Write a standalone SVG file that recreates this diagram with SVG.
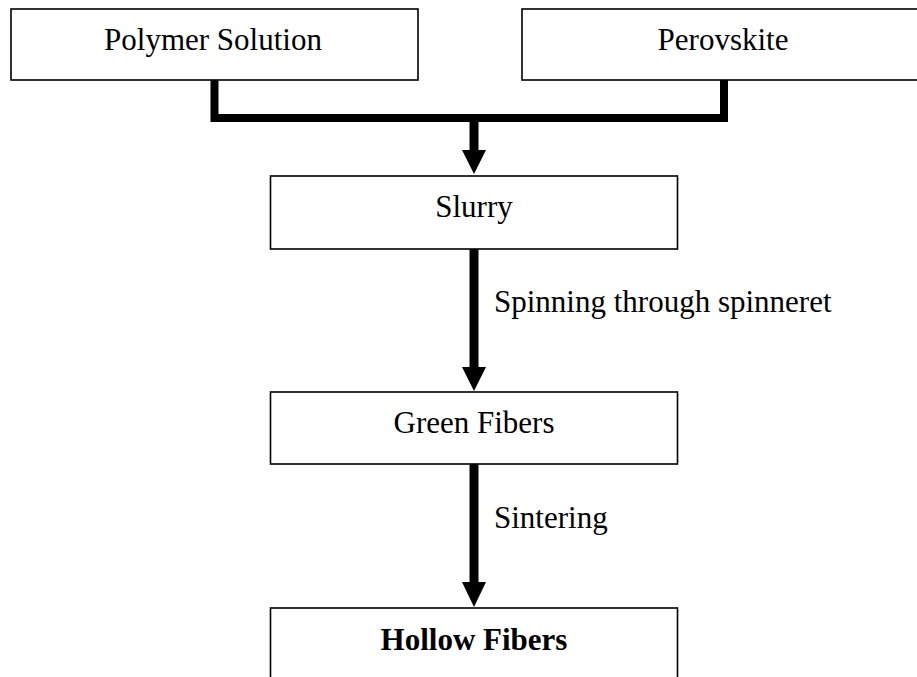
<svg xmlns="http://www.w3.org/2000/svg" width="917" height="677" viewBox="0 0 917 677">
<style>
.box{fill:#fff;stroke:#000;stroke-width:1.6}
.t{font-family:"Liberation Serif","Times New Roman",serif;font-size:31px;fill:#000}
.c{text-anchor:middle}
.b{font-weight:bold}
.bar{fill:none;stroke:#000;stroke-width:8;stroke-linejoin:miter;stroke-linecap:butt}
.shaft{stroke:#000;stroke-width:9}
.head{fill:#000}
</style>
<rect width="917" height="677" fill="#fff"/>
<g id="connectors">
<path class="bar" d="M214.5,80 V118 H724 V80"/>
<line class="shaft" x1="474" y1="118" x2="474" y2="152"/>
<polygon class="head" points="462,150 486,150 474,174"/>
<line class="shaft" x1="474" y1="249" x2="474" y2="369"/>
<polygon class="head" points="462,367 486,367 474,391"/>
<line class="shaft" x1="474" y1="464" x2="474" y2="584"/>
<polygon class="head" points="462,582 486,582 474,607"/>
<text class="t" x="494" y="312">Spinning through spinneret</text>
<text class="t" x="494" y="528">Sintering</text>
</g>
<g id="polymer">
<rect class="box" x="11" y="9" width="407" height="71"/>
<text class="t c" x="213" y="50">Polymer Solution</text>
</g>
<g id="perovskite">
<rect class="box" x="522" y="9" width="402" height="71"/>
<text class="t c" x="723" y="50">Perovskite</text>
</g>
<g id="slurry">
<rect class="box" x="270.5" y="176" width="407" height="73"/>
<text class="t c" x="474" y="217">Slurry</text>
</g>
<g id="green">
<rect class="box" x="270.5" y="392" width="407" height="72"/>
<text class="t c" x="474" y="433">Green Fibers</text>
</g>
<g id="hollow">
<rect class="box" x="270.5" y="608" width="407" height="80"/>
<text class="t c b" x="474" y="650">Hollow Fibers</text>
</g>
</svg>
